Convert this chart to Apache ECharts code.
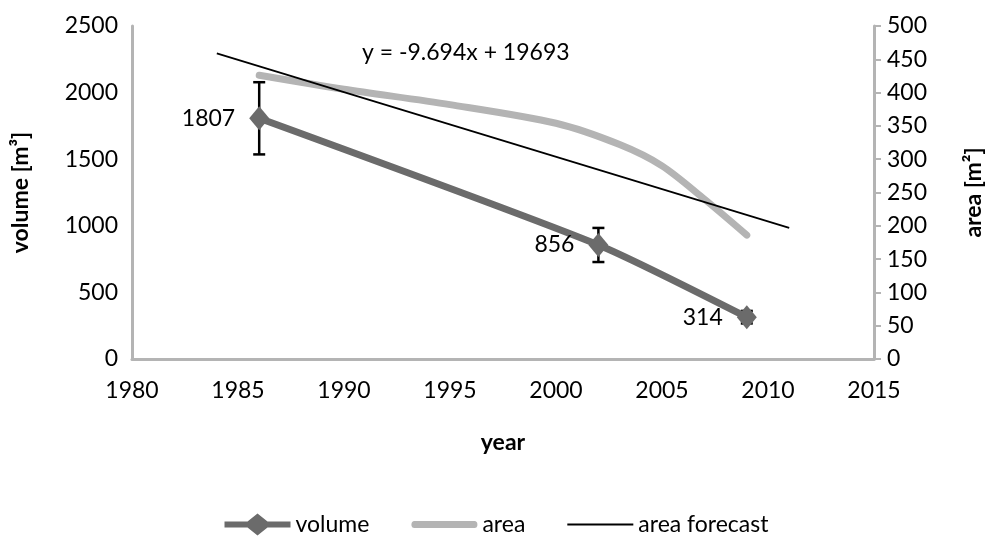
<!DOCTYPE html>
<html>
<head>
<meta charset="utf-8">
<script src="https://cdn.jsdelivr.net/npm/echarts@6/dist/echarts.min.js"></script>
<style>
  html, body { margin: 0; padding: 0; background: #fff; }
  #chart { width: 993px; height: 543px; }
</style>
</head>
<body>
<div id="chart"></div>
<script>
// volume measurements (left axis, m3)
const volumeYears = [1986, 2002, 2009];
const volumeValues = [1807, 856, 314];
// error bars on volume
const errLow = [1536, 728, 267];
const errHigh = [2078, 984, 361];

// area (right axis, m2)
const areaYears = [1986, 1990, 1995, 2000, 2003, 2005, 2007, 2009];
const areaValues = [426, 405, 382, 354, 322, 290, 240, 186];

// linear trend for area
const forecastYears = [1984, 2011];
const forecastValues = [459, 197];

const xTicks = { min: 1980, max: 2015, step: 5 };
const equation = 'y = -9.694x + 19693';

const font = 'Lato, "Open Sans", sans-serif';
const fs = 23;
const axisGray = '#b4b4b4';

const chart = echarts.init(document.getElementById('chart'));

const errData = volumeYears.map((y, i) => [y, errLow[i], errHigh[i]]);
const plain = v => String(v);

const option = {
    animation: false,
    textStyle: { fontFamily: font },
    grid: { left: 132, right: 115, top: 26, bottom: 184 },
    legend: {
        bottom: 2,
        left: 'center',
        itemWidth: 66,
        itemHeight: 22,
        itemGap: 42,
        textStyle: { fontSize: fs, color: '#000', fontFamily: font },
        data: [
            { name: 'volume', icon: 'path://M0,8 L23,8 L33,0 L43,8 L66,8 L66,14 L43,14 L33,22 L23,14 L0,14 Z' },
            { name: 'area', icon: 'path://M3,0 L63,0 Q66,0 66,3.5 Q66,7 63,7 L3,7 Q0,7 0,3.5 Q0,0 3,0 Z' },
            { name: 'area forecast', icon: 'path://M0,0 L66,0 L66,1.8 L0,1.8 Z' }
        ]
    },
    graphic: [{
        type: 'text',
        left: 362,
        top: 41,
        style: { text: equation, font: fs + 'px ' + font, fill: '#000' }
    }],
    xAxis: {
        type: 'value',
        min: xTicks.min,
        max: xTicks.max,
        interval: xTicks.step,
        name: 'year',
        nameLocation: 'middle',
        nameGap: 72,
        nameTextStyle: { fontSize: fs, fontWeight: 'bold', color: '#000' },
        axisLine: { lineStyle: { color: axisGray, width: 3 } },
        axisTick: { show: false },
        splitLine: { show: false },
        axisLabel: { fontSize: fs, color: '#000', margin: 20, formatter: plain }
    },
    yAxis: [{
        type: 'value',
        min: 0,
        max: 2500,
        interval: 500,
        name: 'volume [m³]',
        nameLocation: 'middle',
        nameRotate: 90,
        nameGap: 100,
        nameTextStyle: { fontSize: fs, fontWeight: 'bold', color: '#000' },
        axisLine: { show: true, lineStyle: { color: axisGray, width: 3 } },
        axisTick: { show: false },
        splitLine: { show: false },
        axisLabel: { fontSize: fs, color: '#000', margin: 14, formatter: plain }
    }, {
        type: 'value',
        position: 'right',
        min: 0,
        max: 500,
        interval: 50,
        name: 'area [m²]',
        nameLocation: 'middle',
        nameRotate: 90,
        nameGap: 88,
        nameTextStyle: { fontSize: fs, fontWeight: 'bold', color: '#000' },
        axisLine: { show: true, lineStyle: { color: axisGray, width: 3 } },
        axisTick: { show: true, length: 7, lineStyle: { color: axisGray, width: 2 } },
        splitLine: { show: false },
        axisLabel: { fontSize: fs, color: '#000', margin: 13, formatter: plain }
    }],
    series: [{
        name: 'error',
        type: 'custom',
        yAxisIndex: 0,
        z: 1,
        data: errData,
        renderItem: function (params, api) {
            const x = api.value(0);
            const lo = api.coord([x, api.value(1)]);
            const hi = api.coord([x, api.value(2)]);
            const cap = 6;
            const style = { stroke: '#000', lineWidth: 2.5 };
            return {
                type: 'group',
                children: [
                    { type: 'line', shape: { x1: lo[0], y1: lo[1], x2: hi[0], y2: hi[1] }, style: style },
                    { type: 'line', shape: { x1: lo[0] - cap, y1: lo[1], x2: lo[0] + cap, y2: lo[1] }, style: style },
                    { type: 'line', shape: { x1: hi[0] - cap, y1: hi[1], x2: hi[0] + cap, y2: hi[1] }, style: style }
                ]
            };
        }
    }, {
        name: 'area',
        type: 'line',
        yAxisIndex: 1,
        smooth: 0.3,
        showSymbol: false,
        symbol: 'none',
        z: 2,
        data: areaYears.map((y, i) => [y, areaValues[i]]),
        lineStyle: { color: '#b4b4b4', width: 7, cap: 'round' },
        itemStyle: { color: '#b4b4b4' }
    }, {
        name: 'area forecast',
        type: 'line',
        yAxisIndex: 1,
        symbol: 'none',
        z: 3,
        data: forecastYears.map((y, i) => [y, forecastValues[i]]),
        lineStyle: { color: '#000', width: 1.8 },
        itemStyle: { color: '#000' }
    }, {
        name: 'volume',
        type: 'line',
        yAxisIndex: 0,
        smooth: 0.2,
        symbol: 'diamond',
        symbolSize: [20, 24],
        z: 4,
        data: volumeYears.map((y, i) => [y, volumeValues[i]]),
        lineStyle: { color: '#6b6b6b', width: 7 },
        itemStyle: { color: '#6b6b6b' },
        label: {
            show: true,
            position: 'left',
            distance: 14,
            fontSize: fs,
            color: '#000',
            formatter: p => p.value[1]
        }
    }]
};

chart.setOption(option);
</script>
</body>
</html>
